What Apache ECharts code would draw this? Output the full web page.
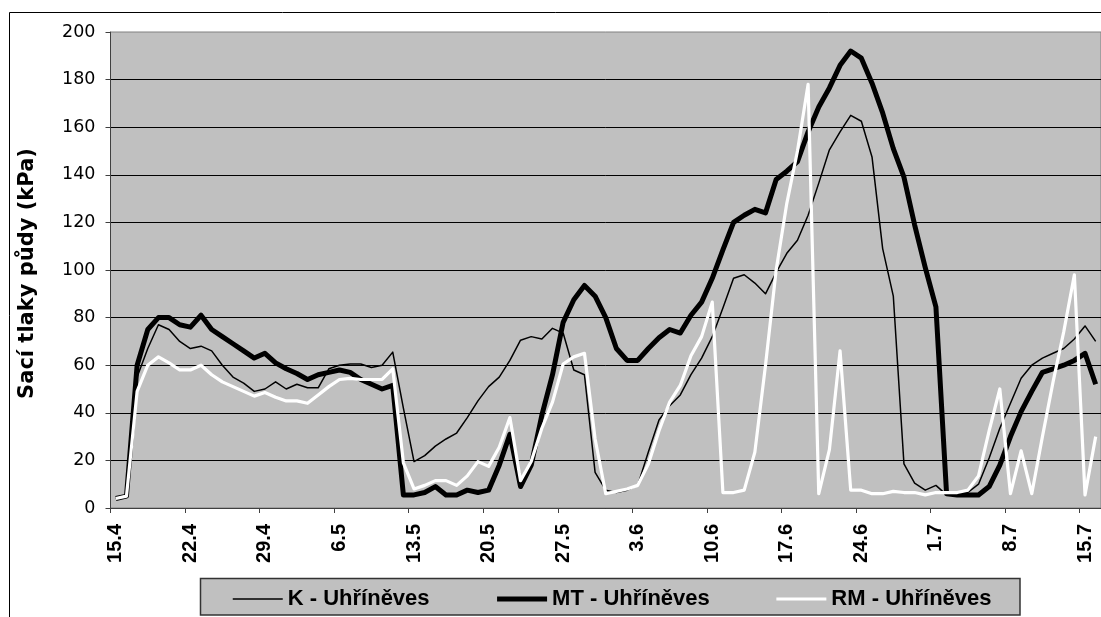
<!DOCTYPE html>
<html>
<head>
<meta charset="utf-8">
<script src="https://cdn.jsdelivr.net/npm/echarts@6/dist/echarts.min.js"></script>
<style>
html,body{margin:0;padding:0;background:#fff;}
#chart{width:1101px;height:617px;}
</style>
</head>
<body>
<div id="chart"></div>
<script>
const dates = ['15.4','16.4','17.4','18.4','19.4','20.4','21.4','22.4','23.4','24.4','25.4','26.4','27.4','28.4','29.4','30.4',
'1.5','2.5','3.5','4.5','5.5','6.5','7.5','8.5','9.5','10.5','11.5','12.5','13.5','14.5','15.5','16.5','17.5','18.5','19.5','20.5',
'21.5','22.5','23.5','24.5','25.5','26.5','27.5','28.5','29.5','30.5','31.5',
'1.6','2.6','3.6','4.6','5.6','6.6','7.6','8.6','9.6','10.6','11.6','12.6','13.6','14.6','15.6','16.6','17.6','18.6','19.6','20.6',
'21.6','22.6','23.6','24.6','25.6','26.6','27.6','28.6','29.6','30.6',
'1.7','2.7','3.7','4.7','5.7','6.7','7.7','8.7','9.7','10.7','11.7','12.7','13.7','14.7','15.7','16.7'];

const seriesNames = ['K - Uhříněves','MT - Uhříněves','RM - Uhříněves'];

const K = [4,5,55,67,77,75,70,67,68,66,
60,55,52.5,49,50,53,50,52,50.5,50.5,
58.5,60,60.5,60.5,59,60,65.5,42,19.5,22,
26,29,31.5,38,45,51,55,62,70.5,72,
71,75.5,73.5,58,56,15,7.5,6.5,7.5,9.5,
23.5,37,43,47.5,56,63,72,84,96.5,98,
94.5,90,99,107,112.5,123,136.5,150.5,158,165,
162.5,147.5,109,89,18.5,10.5,7.5,9.5,5.5,6.5,
6.5,10,21,33.5,44,54.5,60,63,65,67,
71,76.5,70];

const MT = [4,5,60,75,80,80,77,76,81,75,
72,69,66,63,65,61,58.5,56.5,54,56,
57,58,57,54,52,50,51.5,5.5,5.5,6.5,
9,5.5,5.5,7.5,6.5,7.5,18,31,9,18,
39,56,78,87.5,93.5,89,80,67,62,62,
67,71.5,75,73.5,81,86.5,96.5,108.5,120,123,
125.5,124,138,141.5,145.5,158,168.5,176.5,186,192,
189,178.5,166,151,139,119,101,84.5,6,5.5,
5.5,5.5,9,18,30,40.5,49,57,58.5,60,
62,65,52];

const RM = [4,5,49,60,63.5,61,58,58,60,56,
53,51,49,47,48.5,46.5,45,45,44,47.5,
51,54,54.5,54,54,54,58.5,19,8,9.5,
11.5,11.5,9.5,13.5,19.5,17.5,25.5,38,11.5,19.5,
33.5,44.5,60.5,63.5,65,29,6,7,8,9.5,
18.5,32.5,44.5,51.5,64,72,86.5,6.5,6.5,7.5,
23.5,60,100,128,150,178,6,24.5,66,7.5,
7.5,6,6,7,6.5,6.5,5.5,6.5,6.5,6.5,
7.5,13.5,32.5,50,6,24,6,30,53,74,
98,5.5,30];

const yTitle = 'Sací tlaky půdy (kPa)';

const lineColors = ['#000', '#000', '#fff'];
const lineWidths = [1.5, 5, 3.2];

const chart = echarts.init(document.getElementById('chart'), null, {renderer: 'canvas'});

const option = {
  animation: false,
  backgroundColor: '#ffffff',
  grid: {
    show: true,
    left: 110.5,
    top: 32,
    width: 998.2,
    bottom: 109,
    backgroundColor: '#C0C0C0',
    borderColor: '#808080',
    borderWidth: 1,
    containLabel: false
  },
  xAxis: {
    type: 'category',
    data: dates,
    boundaryGap: true,
    axisLine: {show: true, lineStyle: {color: '#404040', width: 1}},
    axisTick: {show: true, interval: 6, length: 5, lineStyle: {color: '#404040', width: 1}},
    axisLabel: {
      interval: 6, rotate: 90, margin: 16,
      fontFamily: 'Liberation Sans, Arial, sans-serif', fontWeight: 'bold', fontSize: 20, color: '#000'
    },
    splitLine: {show: false}
  },
  yAxis: {
    type: 'value',
    min: 0, max: 200, interval: 20,
    axisLine: {show: true, lineStyle: {color: '#404040', width: 1}},
    axisTick: {show: true, length: 5, lineStyle: {color: '#404040', width: 1}},
    axisLabel: {margin: 15, fontFamily: 'DejaVu Sans, sans-serif', fontSize: 17.5, color: '#000'},
    splitLine: {show: true, showMaxLine: false, lineStyle: {color: '#000', width: 1}}
  },
  legend: {
    left: 232,
    top: 588,
    padding: 0,
    itemWidth: 50,
    itemHeight: 14,
    itemGap: 65,
    textStyle: {fontFamily: 'Liberation Sans, Arial, sans-serif', fontWeight: 'bold', fontSize: 22, color: '#000'},
    data: seriesNames.map((n, i) => ({
      name: n,
      itemStyle: {opacity: 0},
      lineStyle: {color: lineColors[i], width: lineWidths[i]}
    }))
  },
  graphic: [
    {type: 'rect', z: -10, silent: true,
     shape: {x: 9.5, y: 12.5, width: 1200, height: 700},
     style: {fill: 'none', stroke: '#000', lineWidth: 1}},
    {type: 'rect', z: -5, silent: true,
     shape: {x: 200.5, y: 578.5, width: 819.5, height: 36.5},
     style: {fill: '#C0C0C0', stroke: '#333', lineWidth: 1.5}},
    {type: 'text', silent: true, x: 28, y: 273.5, rotation: Math.PI / 2,
     style: {text: yTitle, fontFamily: 'DejaVu Sans, sans-serif', fontWeight: 'bold', fontSize: 21,
             fill: '#000', align: 'center', verticalAlign: 'middle'}}
  ],
  series: [
    {name: seriesNames[0], type: 'line', data: K, symbol: 'none', z: 2,
     lineStyle: {color: lineColors[0], width: lineWidths[0], join: 'round'}, itemStyle: {color: lineColors[0]}},
    {name: seriesNames[1], type: 'line', data: MT, symbol: 'none', z: 3,
     lineStyle: {color: lineColors[1], width: lineWidths[1], join: 'round'}, itemStyle: {color: lineColors[1]}},
    {name: seriesNames[2], type: 'line', data: RM, symbol: 'none', z: 4,
     lineStyle: {color: lineColors[2], width: lineWidths[2], join: 'round'}, itemStyle: {color: lineColors[2]}}
  ]
};
chart.setOption(option);
</script>
</body>
</html>
